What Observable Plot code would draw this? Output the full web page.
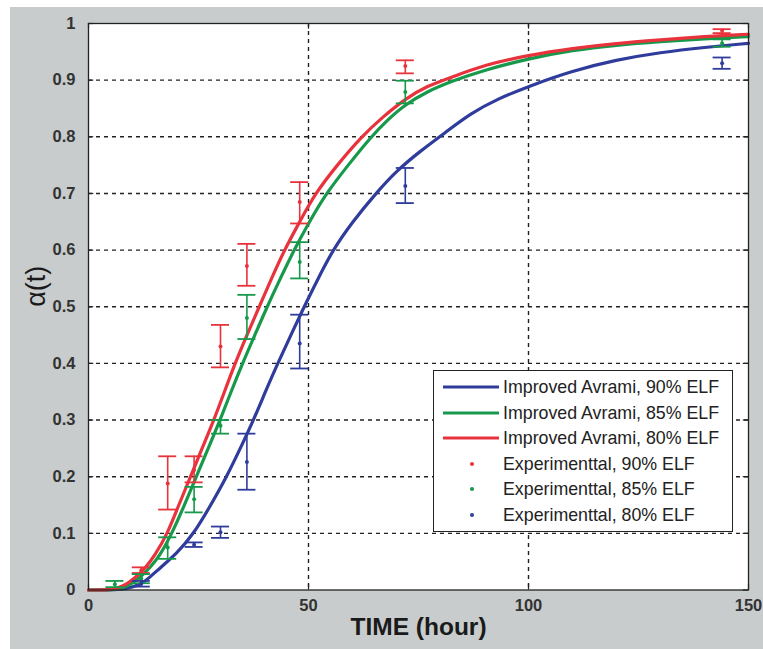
<!DOCTYPE html>
<html><head><meta charset="utf-8">
<script src="https://cdn.jsdelivr.net/npm/d3@7"></script>
<script src="https://cdn.jsdelivr.net/npm/@observablehq/plot@0.6"></script>
<style>
body{margin:0;background:#fff;}
#wrap{position:relative;width:763px;height:649px;overflow:hidden;background:#fff;}
#chart{position:absolute;left:10px;top:7px;}
#chart svg{background:#c8cccc;display:block;}
#legend{position:absolute;left:433px;top:370px;width:298px;height:160px;border:1px solid #222;background:#fff;font-family:"Liberation Sans",Arial,sans-serif;font-size:17.8px;color:#222;}
#legend .row{position:absolute;left:0;width:100%;height:24px;}
#legend .txt{position:absolute;left:69px;top:1px;line-height:22px;white-space:nowrap;}
#legend svg{position:absolute;left:0;top:0;}
</style></head>
<body>
<div id="wrap"><div id="chart"></div><div id="legend"></div></div>
<script>
// ---- Data ----
const xTicks = [0, 50, 100, 150];
const xTickLabels = ["0", "50", "100", "150"];
const yTicks = [0, 0.1, 0.2, 0.3, 0.4, 0.5, 0.6, 0.7, 0.8, 0.9, 1];
const yTickLabels = ["0", "0.1", "0.2", "0.3", "0.4", "0.5", "0.6", "0.7", "0.8", "0.9", "1"];

// Improved Avrami curves
const tBlue = [0, 7.5, 10, 12, 13.6, 16.4, 20, 24, 27.8, 31.4, 34.5, 37.5, 40.2, 43, 46, 49, 52.2, 55.5, 60, 65.3, 70, 75.6, 81, 87, 93, 100, 109.7, 120, 130, 140, 150];
const aBlue = [0, 0, 0.005, 0.011, 0.02, 0.04, 0.064, 0.1, 0.15, 0.2, 0.25, 0.3, 0.35, 0.4, 0.45, 0.5, 0.55, 0.6, 0.65, 0.7, 0.74, 0.776, 0.807, 0.842, 0.867, 0.889, 0.916, 0.936, 0.949, 0.958, 0.965];
const tGreen = [0, 6, 8, 10, 12, 14, 16, 19, 21.8, 24.5, 27.2, 29.9, 32.4, 35, 37.8, 40.6, 43.6, 46.7, 50.2, 54, 59, 64.2, 68, 71.8, 77, 82.5, 90, 100, 110, 120, 130, 140, 150];
const aGreen = [0, 0, 0.004, 0.012, 0.024, 0.04, 0.058, 0.1, 0.15, 0.2, 0.25, 0.3, 0.35, 0.4, 0.45, 0.5, 0.55, 0.6, 0.65, 0.7, 0.75, 0.8, 0.83, 0.856, 0.88, 0.898, 0.918, 0.938, 0.953, 0.962, 0.968, 0.973, 0.977];
const tRed = [0, 5, 7, 9, 11, 13, 15, 18, 20.5, 23.2, 25.8, 28.5, 30.9, 33.3, 36, 38.8, 41.6, 44.5, 48, 51.5, 56.5, 62, 67, 72, 77, 82.5, 90, 100, 110, 120, 130, 140, 150];
const aRed = [0, 0, 0.004, 0.012, 0.024, 0.04, 0.06, 0.1, 0.15, 0.2, 0.25, 0.3, 0.35, 0.4, 0.45, 0.5, 0.55, 0.6, 0.65, 0.7, 0.75, 0.8, 0.836, 0.867, 0.89, 0.905, 0.927, 0.944, 0.956, 0.965, 0.971, 0.977, 0.981];

// Experimental points (mean, lower, upper)
const expRedT  = [12, 18, 24, 30, 36, 48, 72, 144];
const expRedM  = [0.035, 0.188, 0.212, 0.43, 0.572, 0.685, 0.925, 0.987];
const expRedLo = [0.03, 0.142, 0.19, 0.393, 0.537, 0.647, 0.912, 0.983];
const expRedHi = [0.04, 0.236, 0.236, 0.468, 0.611, 0.72, 0.935, 0.99];

const expGreenT  = [6, 12, 18, 24, 30, 36, 48, 72, 144];
const expGreenM  = [0.01, 0.02, 0.075, 0.16, 0.29, 0.48, 0.579, 0.879, 0.965];
const expGreenLo = [0.005, 0.012, 0.055, 0.137, 0.276, 0.443, 0.55, 0.859, 0.959];
const expGreenHi = [0.016, 0.028, 0.093, 0.182, 0.30, 0.521, 0.614, 0.899, 0.972];

const expBlueT  = [12, 24, 30, 36, 48, 72, 144];
const expBlueM  = [0.011, 0.08, 0.102, 0.226, 0.435, 0.713, 0.93];
const expBlueLo = [0.006, 0.076, 0.092, 0.177, 0.391, 0.683, 0.92];
const expBlueHi = [0.016, 0.084, 0.112, 0.276, 0.486, 0.745, 0.94];

const BLUE = "#2f3c9c", GREEN = "#16994a", RED = "#e8323c";

const legendLabels = ["Improved Avrami, 90% ELF", "Improved Avrami, 85% ELF", "Improved Avrami, 80% ELF",
  "Experimenttal, 90% ELF", "Experimenttal, 85% ELF", "Experimenttal, 80% ELF"];
const legendColors = [BLUE, GREEN, RED, RED, GREEN, BLUE];
const legendKinds = ["line", "line", "line", "dot", "dot", "dot"];

// ---- Build tables ----
const curve = (ts, as) => ts.map((t, i) => ({t, a: as[i]}));
const exps = (ts, ms, lo, hi) => ts.map((t, i) => ({t, m: ms[i], lo: lo[i], hi: hi[i]}));
const cBlue = curve(tBlue, aBlue), cGreen = curve(tGreen, aGreen), cRed = curve(tRed, aRed);
const eRed = exps(expRedT, expRedM, expRedLo, expRedHi);
const eGreen = exps(expGreenT, expGreenM, expGreenLo, expGreenHi);
const eBlue = exps(expBlueT, expBlueM, expBlueLo, expBlueHi);

const capHalf = 2.05;
function errMarks(data, color) {
  return [
    Plot.ruleX(data, {x: "t", y1: "lo", y2: "hi", stroke: color, strokeWidth: 1.6}),
    Plot.ruleY(data, {y: "lo", x1: d => d.t - capHalf, x2: d => d.t + capHalf, stroke: color, strokeWidth: 1.8}),
    Plot.ruleY(data, {y: "hi", x1: d => d.t - capHalf, x2: d => d.t + capHalf, stroke: color, strokeWidth: 1.8}),
    Plot.dot(data, {x: "t", y: "m", r: 2, fill: color, stroke: "none"})
  ];
}

const gridY = yTicks.filter(v => v > 0 && v < 1);
const gridX = xTicks.filter(v => v > 0 && v < 150);

const chart = Plot.plot({
  width: 753,
  height: 642,
  marginLeft: 78,
  marginRight: 15,
  marginTop: 16,
  marginBottom: 59.5,
  style: {fontFamily: "'Liberation Sans', Arial, sans-serif", background: "#c8cccc"},
  x: {domain: [0, 150], ticks: xTicks, tickFormat: (d) => xTickLabels[xTicks.indexOf(d)]},
  y: {domain: [0, 1], ticks: yTicks, tickFormat: (d) => yTickLabels[yTicks.indexOf(d)]},
  marks: [
    Plot.frame({fill: "white", stroke: "none"}),
    Plot.ruleY(gridY, {stroke: "#222", strokeWidth: 1.4, strokeDasharray: "4,4"}),
    Plot.ruleX(gridX, {stroke: "#222", strokeWidth: 1.4, strokeDasharray: "4,4"}),
    Plot.ruleY(yTicks, {x1: 0, x2: 1.2, stroke: "#222", strokeWidth: 1.2}),
    Plot.ruleY(yTicks, {x1: 148.8, x2: 150, stroke: "#222", strokeWidth: 1.2}),
    Plot.ruleX(xTicks, {y1: 0, y2: 0.01, stroke: "#222", strokeWidth: 1.2}),
    Plot.ruleX(xTicks, {y1: 0.99, y2: 1, stroke: "#222", strokeWidth: 1.2}),
    Plot.line(cBlue, {x: "t", y: "a", stroke: BLUE, strokeWidth: 3.2, curve: "basis"}),
    Plot.line(cGreen, {x: "t", y: "a", stroke: GREEN, strokeWidth: 3.2, curve: "basis"}),
    Plot.line(cRed, {x: "t", y: "a", stroke: RED, strokeWidth: 3.2, curve: "basis"}),
    ...errMarks(eRed, RED),
    ...errMarks(eGreen, GREEN),
    ...errMarks(eBlue, BLUE),
    Plot.frame({stroke: "#222", strokeWidth: 1.3}),
    Plot.axisX({ticks: xTicks, tickSize: 0, tickPadding: 9, fontSize: 16.5, fontWeight: "bold", fill: "#333", label: null, tickFormat: (d) => xTickLabels[xTicks.indexOf(d)]}),
    Plot.axisY({ticks: yTicks, tickSize: 0, tickPadding: 13, fontSize: 16.5, fontWeight: "bold", fill: "#333", label: null, tickFormat: (d) => yTickLabels[yTicks.indexOf(d)]}),
    Plot.text(["TIME (hour)"], {frameAnchor: "bottom", dy: 45, fontSize: 24.5, fontWeight: "bold", fill: "#1a1a1a"}),
    Plot.text(["α(t)"], {frameAnchor: "left", dx: -52, rotate: -90, fontSize: 27, fill: "#1a1a1a"})
  ]
});
document.getElementById("chart").appendChild(chart);

// ---- Legend ----
const leg = document.getElementById("legend");
legendLabels.forEach((lab, i) => {
  const row = document.createElement("div");
  row.className = "row";
  row.style.top = (4 + i * 25.6) + "px";
  const ns = "http://www.w3.org/2000/svg";
  const s = document.createElementNS(ns, "svg");
  s.setAttribute("width", 68); s.setAttribute("height", 24);
  if (legendKinds[i] === "line") {
    const l = document.createElementNS(ns, "line");
    l.setAttribute("x1", 9); l.setAttribute("x2", 65); l.setAttribute("y1", 12); l.setAttribute("y2", 12);
    l.setAttribute("stroke", legendColors[i]); l.setAttribute("stroke-width", 3.2);
    s.appendChild(l);
  } else {
    const c = document.createElementNS(ns, "circle");
    c.setAttribute("cx", 38); c.setAttribute("cy", 12); c.setAttribute("r", 2);
    c.setAttribute("fill", legendColors[i]);
    s.appendChild(c);
  }
  row.appendChild(s);
  const t = document.createElement("div");
  t.className = "txt"; t.textContent = lab;
  row.appendChild(t);
  leg.appendChild(row);
});
</script>
</body></html>
